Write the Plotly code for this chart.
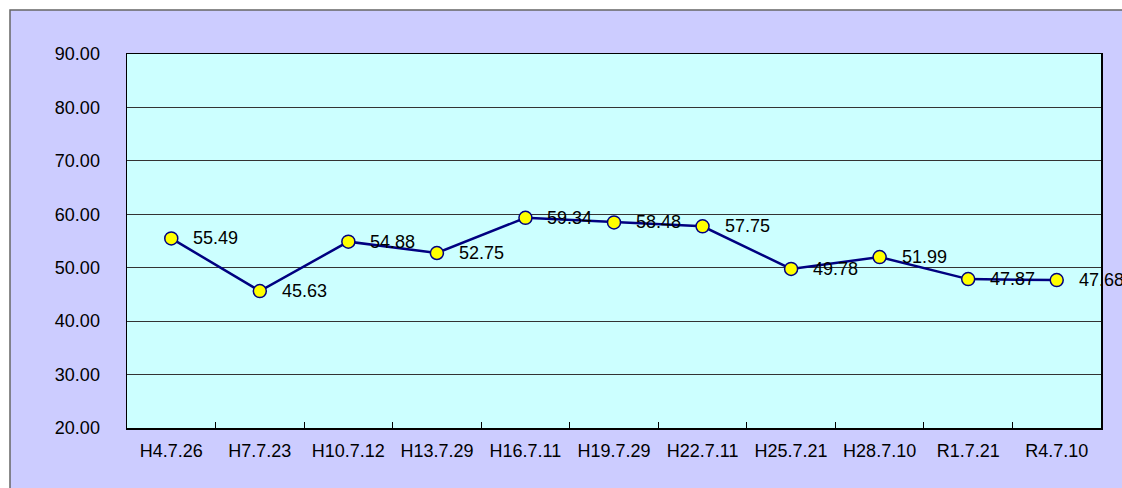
import plotly.graph_objects as go

categories = ["H4.7.26", "H7.7.23", "H10.7.12", "H13.7.29", "H16.7.11", "H19.7.29",
              "H22.7.11", "H25.7.21", "H28.7.10", "R1.7.21", "R4.7.10"]
values = [55.49, 45.63, 54.88, 52.75, 59.34, 58.48, 57.75, 49.78, 51.99, 47.87, 47.68]
y_ticks = [20, 30, 40, 50, 60, 70, 80, 90]

FONT = "Liberation Sans, Arial, sans-serif"

fig = go.Figure()
fig.add_trace(go.Scatter(
    x=categories, y=values, mode="lines+markers",
    line=dict(color="#000080", width=2.5),
    marker=dict(size=13, color="#FFFF00", line=dict(color="#000080", width=1.5)),
    cliponaxis=False, hoverinfo="skip", showlegend=False,
))

annotations = [
    dict(x=c, y=v, xref="x", yref="y", text=f"{v:.2f}", showarrow=False,
         xanchor="left", yanchor="middle", xshift=20,
         font=dict(family=FONT, size=18, color="#000000"))
    for c, v in zip(categories, values)
]

W, H = 1122, 488
ML, MR, MT, MB = 127, W - 1101, 54, H - 428
pw, ph = W - ML - MR, H - MT - MB
def px_x(p): return (p - ML) / pw
def px_y(p): return (H - MB - p) / ph

WHITE = "#FFFFFF"
fig.update_layout(
    width=W, height=H,
    margin=dict(l=ML, r=MR, t=MT, b=MB),
    paper_bgcolor="#CCCCFF",
    plot_bgcolor="#CCFFFF",
    font=dict(family=FONT, size=18, color="#000000"),
    annotations=annotations,
    shapes=[
        dict(type="rect", xref="paper", yref="paper", layer="below",
             x0=px_x(-20), x1=px_x(10), y0=px_y(600), y1=px_y(-20),
             fillcolor=WHITE, line=dict(width=0)),
        dict(type="rect", xref="paper", yref="paper", layer="below",
             x0=px_x(-20), x1=px_x(1200), y0=px_y(10), y1=px_y(-20),
             fillcolor=WHITE, line=dict(width=0)),
        dict(type="path", xref="paper", yref="paper", layer="below",
             path=f"M {px_x(10)},{px_y(600)} L {px_x(10)},{px_y(10)} L {px_x(1200)},{px_y(10)}",
             line=dict(color="#666666", width=1.5)),
    ],
    xaxis=dict(
        type="category", showgrid=False, showline=True, linecolor="#000000", linewidth=1.5,
        mirror=True, ticks="inside", ticklen=6, tickcolor="#000000", tickson="boundaries",
        tickfont=dict(family=FONT, size=18), ticklabelstandoff=6,
        range=[-0.5, len(categories) - 0.5],
    ),
    yaxis=dict(
        range=[20, 90], tickvals=y_ticks, tickformat=".2f",
        showgrid=True, gridcolor="#333333", gridwidth=1,
        showline=True, linecolor="#000000", linewidth=1.5, mirror=True,
        ticks="", tickfont=dict(family=FONT, size=18), ticklabelstandoff=22,
        zeroline=False,
    ),
)

fig.write_html(
    "out.html",
    config={"displayModeBar": False, "staticPlot": True},
    post_script="document.body.style.margin='0';document.body.style.overflow='hidden';",
)
